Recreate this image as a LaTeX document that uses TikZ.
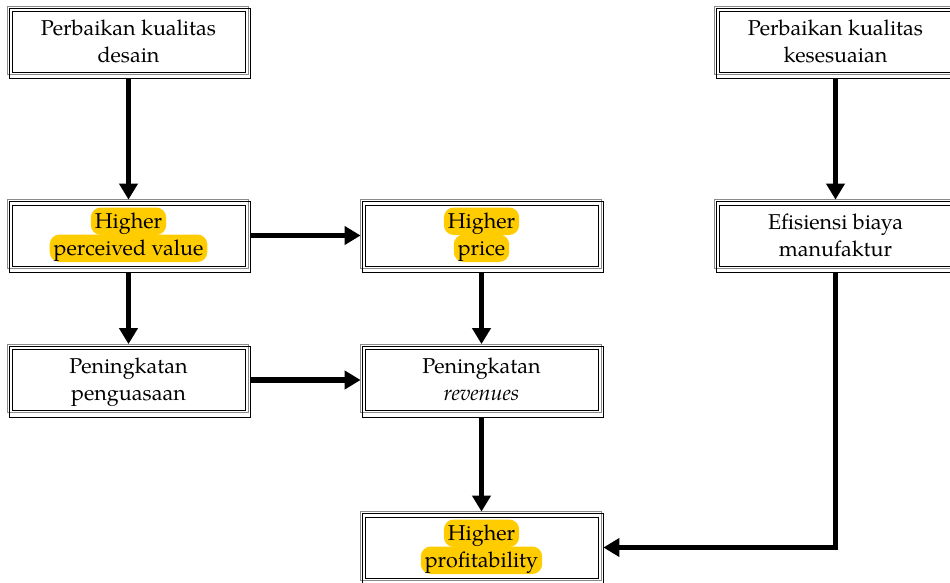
\documentclass[tikz,border=0pt]{standalone}
\usepackage{fontspec}
\setmainfont{TeX Gyre Pagella}
\usetikzlibrary{arrows.meta,calc}
\definecolor{hlyellow}{HTML}{FFCC00}
\definecolor{framegray}{HTML}{8A8A8A}
\newcommand\boxfont{\fontsize{21.5}{27}\selectfont}
% line struts that fix where the two text lines sit inside a box
\newcommand\topline{\rule{0pt}{20pt}}
\newcommand\botline{\rule[-6pt]{0pt}{6pt}}

\begin{document}
\begin{tikzpicture}[x=1pt,y=-1pt,
  box/.style={draw=black, line width=0.8pt, minimum width=233pt, minimum height=61pt,
    inner sep=0pt, align=center, font=\boxfont},
  hlline/.style={fill=hlyellow, rounded corners=10pt, inner xsep=4pt, inner ysep=3pt,
    text height=18pt, text depth=3.5pt, anchor=base, font=\boxfont},
  conn/.style={line width=5.5pt, -{Triangle[length=16pt,width=18pt]}},
]
\useasboundingbox (0,0) rectangle (950,583);

% boxes
\node[box] (des) at (128.5,42) {\topline Perbaikan kualitas\\\botline desain};
\node[box] (val) at (128.5,235.5) {};
\node[box] (pen) at (128.5,380) {\topline Peningkatan\\\botline penguasaan};
\node[box] (pri) at (481.5,235.5) {};
\node[box] (rev) at (481.5,380) {\topline Peningkatan\\\botline\textit{revenues}};
\node[box] (pro) at (481.5,547.5) {};
\node[box] (kes) at (835.5,42) {\topline Perbaikan kualitas\\\botline kesesuaian};
\node[box] (efi) at (835.5,235.5) {\topline Efisiensi biaya\\\botline manufaktur};

% highlighted labels
\node[hlline] (valA) at ($(val.center)+(0,-7)$) {Higher};
\node[hlline] (valB) at ($(val.center)+(0,20)$) {perceived value};
\node[hlline] (priA) at ($(pri.center)+(0,-7)$) {Higher};
\node[hlline] (priB) at ($(pri.center)+(0,20)$) {price};
\node[hlline] (proA) at ($(pro.center)+(0,-7)$) {Higher};
\node[hlline] (proB) at ($(pro.center)+(0,20)$) {profitability};

% layered frames
\foreach \n in {des,val,pen,pri,rev,pro,kes,efi}{
  \draw[framegray, line width=0.9pt] ([shift={(-4,-5)}]\n.north west) rectangle ([shift={(3,2)}]\n.south east);
  \draw[line width=0.8pt] ([shift={(-2,-3)}]\n.north west) rectangle ([shift={(5,6)}]\n.south east);
}

% connectors
\draw[conn, shorten <=6pt, shorten >=5pt] (des.south) -- (val.north);
\draw[conn, shorten <=5pt, shorten >=4pt] (val.east) -- (pri.west);
\draw[conn, shorten <=6pt, shorten >=5pt] (val.south) -- (pen.north);
\draw[conn, shorten <=6pt, shorten >=5pt] (pri.south) -- (rev.north);
\draw[conn, shorten <=5pt, shorten >=4pt] (pen.east) -- (rev.west);
\draw[conn, shorten <=6pt, shorten >=5pt] (rev.south) -- (pro.north);
\draw[conn, shorten <=6pt, shorten >=5pt] (kes.south) -- (efi.north);
\draw[conn, shorten <=6pt, shorten >=5pt] (efi.south) |- (pro.east);
\end{tikzpicture}
\end{document}
